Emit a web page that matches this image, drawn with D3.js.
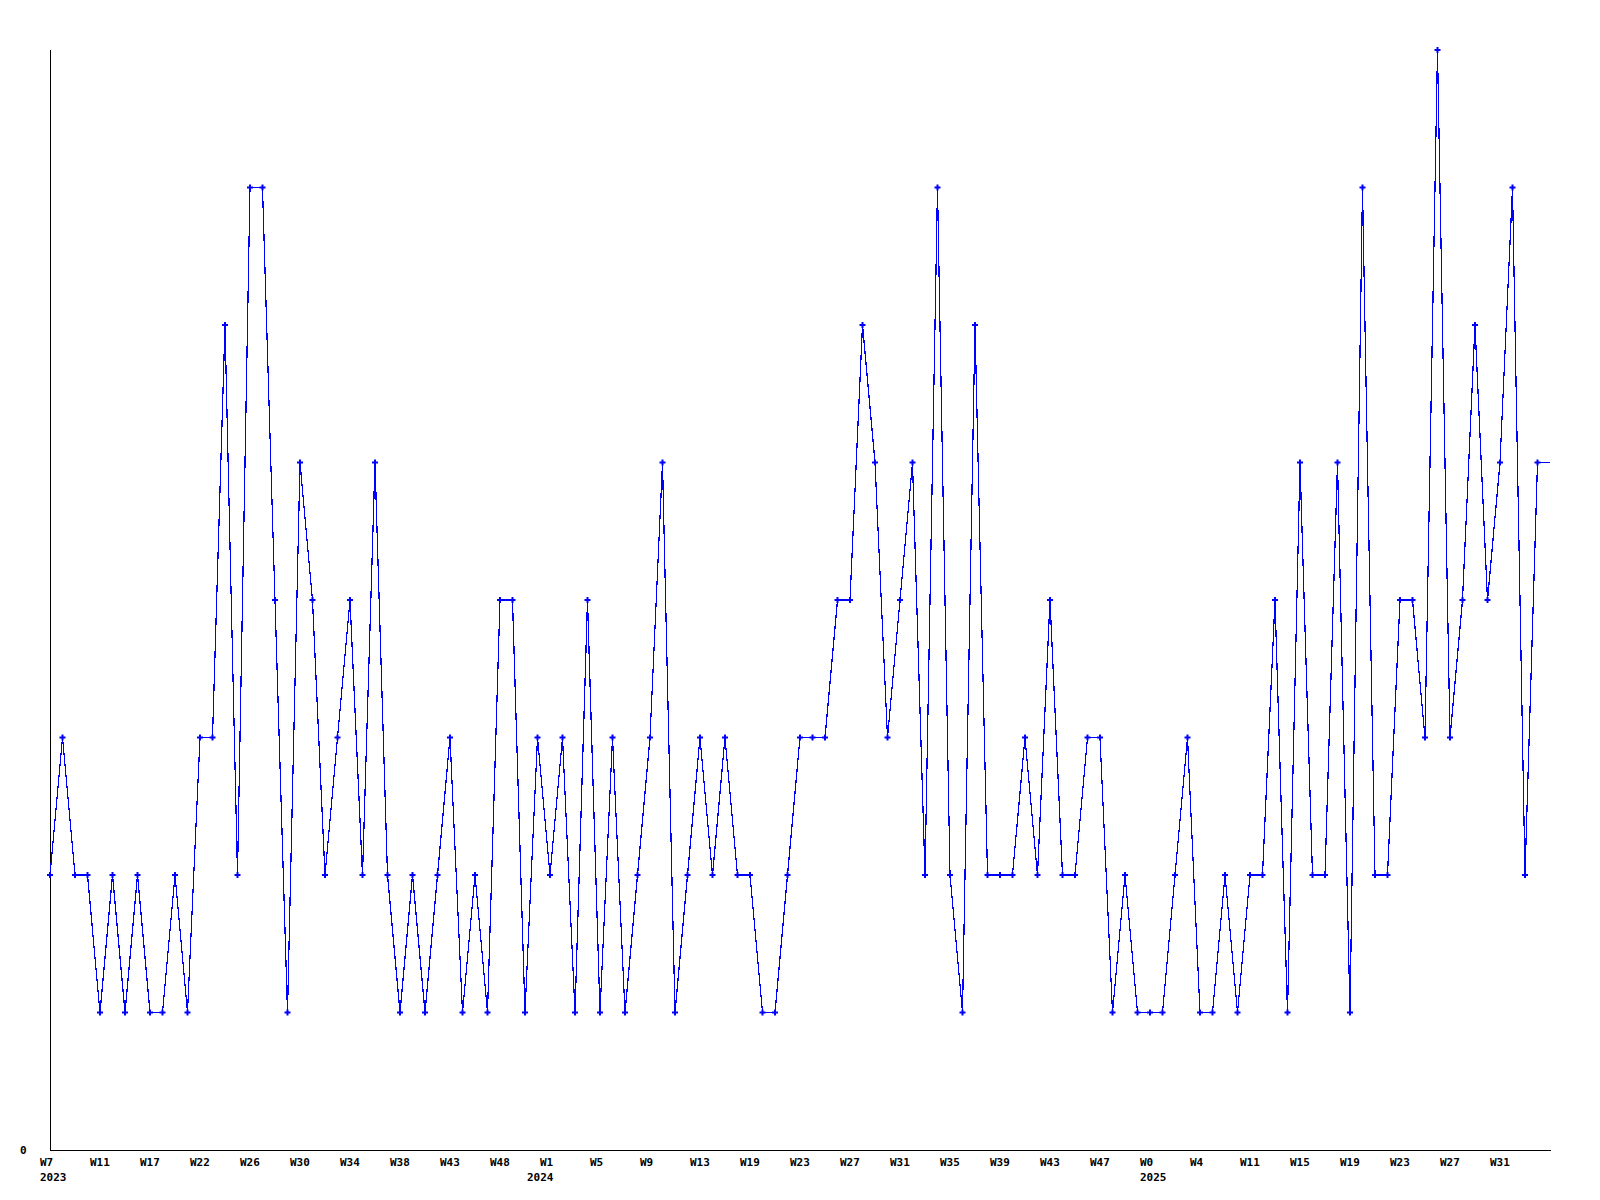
<!DOCTYPE html>
<html>
<head>
<meta charset="utf-8">
<script src="https://cdn.jsdelivr.net/npm/d3@7"></script>
<style>
  html, body { margin: 0; padding: 0; background: #fff; }
  svg { display: block; }
  text { font-family: "DejaVu Sans Mono", "Liberation Mono", monospace; font-weight: bold; font-size: 11px; fill: #000; }
</style>
</head>
<body>
<svg id="chart" width="1600" height="1200"></svg>
<script>
// Weekly values (121 entries, last one is the running week)
const values = [
  2,3,2,2,1,2,1,2,1,1,2,1,3,3,6,2,7,7,4,1,
  5,4,2,3,4,2,5,2,1,2,1,2,3,1,2,1,4,4,1,3,
  2,3,1,4,1,3,1,2,3,5,1,2,3,2,3,2,2,1,1,2,
  3,3,3,4,4,6,5,3,4,5,2,7,2,1,6,2,2,2,3,2,
  4,2,2,3,3,1,2,1,1,1,2,3,1,1,2,1,2,2,4,1,
  5,2,2,5,1,7,2,2,4,4,3,8,3,4,6,4,5,7,2,5,
  5
];
// Tick labels at every 4th entry
const tickIndex = [0,4,8,12,16,20,24,28,32,36,40,44,48,52,56,60,64,68,72,76,80,84,88,92,96,100,104,108,112,116];
const tickWeeks = ["W7","W11","W17","W22","W26","W30","W34","W38","W43","W48","W1","W5","W9","W13","W19","W23","W27","W31","W35","W39","W43","W47","W0","W4","W11","W15","W19","W23","W27","W31"];
const tickYears = ["2023","","","","","","","","","","2024","","","","","","","","","","","","2025","","","","","","",""];
const yMax = 8;

(function () {
  const svg = d3.select("#chart");
  const mL = 50, mR = 1550, mT = 50, mB = 1150;

  const x = d3.scaleLinear().domain([0, values.length - 1]).range([mL, mR]);
  const y = d3.scaleLinear().domain([0, yMax]).range([mB, mT]);

  // Axes lines
  svg.append("line").attr("x1", mL + 0.5).attr("x2", mL + 0.5).attr("y1", mT).attr("y2", mB)
    .attr("stroke", "#000").attr("stroke-width", 1).attr("shape-rendering", "crispEdges");
  svg.append("line").attr("x1", mL).attr("x2", mR + 1).attr("y1", mB + 0.5).attr("y2", mB + 0.5)
    .attr("stroke", "#000").attr("stroke-width", 1).attr("shape-rendering", "crispEdges");

  // Y label
  svg.append("text").attr("x", 20).attr("y", y(0) + 4).text("0");

  // X tick labels
  const tg = svg.append("g");
  tickIndex.forEach((ti, k) => {
    tg.append("text").attr("x", x(ti) - 10).attr("y", 1166).text(tickWeeks[k]);
    if (tickYears[k]) {
      const mid = k > 0 && k < tickIndex.length - 1 && tickYears[k] === "2024";
      tg.append("text").attr("x", x(ti) - (mid ? 23 : 10)).attr("y", 1181).text(tickYears[k]);
    }
  });

  // Line
  const line = d3.line().x((d, i) => x(i)).y(d => y(d));
  svg.append("path").datum(values).attr("d", line)
    .attr("fill", "none").attr("stroke", "#0000ff").attr("stroke-width", 1.2)
    .attr("shape-rendering", "crispEdges");

  // Markers (not on the running last entry)
  const sym = d3.symbol().type(d3.symbolCross).size(20);
  svg.append("g").selectAll("path").data(values.slice(0, -1)).join("path")
    .attr("d", sym)
    .attr("transform", (d, i) => `translate(${x(i)},${y(d)})`)
    .attr("fill", "#0000ff");
})();
</script>
</body>
</html>
